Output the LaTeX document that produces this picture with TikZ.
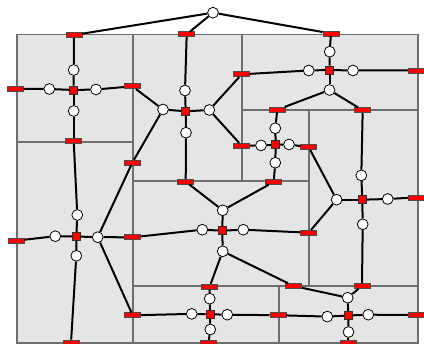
\documentclass[tikz,border=0pt]{standalone}
\definecolor{roomfill}{HTML}{E5E5E5}
\definecolor{wallgray}{HTML}{6E6E6E}
\definecolor{doorred}{HTML}{FF0000}
\tikzset{
  room/.style={fill=roomfill, draw=wallgray, line width=1.2pt},
  door/.style={rectangle, fill=doorred, draw=black!70, line width=0.6pt,
    minimum width=16pt, minimum height=5pt, inner sep=0pt},
  hub/.style={rectangle, fill=doorred, draw=black!80, line width=0.6pt,
    minimum size=8pt, inner sep=0pt},
  junction/.style={circle, fill=white, draw=black, line width=0.8pt,
    minimum size=10.8pt, inner sep=0pt},
  link/.style={line width=2pt, black}
}
\begin{document}
\begin{tikzpicture}[x=1pt, y=-1pt]
\useasboundingbox (0,0) rectangle (424,344);

% rooms of the floor plan
\draw[room] (17,34.5) rectangle (133,142);
\draw[room] (17,142) rectangle (133,343);
\draw[room] (133,34.5) rectangle (242,181);
\draw[room] (242,34.5) rectangle (418,110);
\draw[room] (242,110) rectangle (309,181);
\draw[room] (309,110) rectangle (418,286);
\draw[room] (133,181) rectangle (309,286);
\draw[room] (133,286) rectangle (279,343);
\draw[room] (279,286) rectangle (418,343);

% entrance junction above the plan
\node[junction] (t) at (213,12.7) {};

% doors
\node[door] (d1t) at (74,35) {};
\node[door] (d1l) at (15.3,89) {};
\node[door] (d1r) at (132.3,86.3) {};
\node[door] (d1b) at (73.7,141) {};
\node[door] (d2l) at (16,240.7) {};
\node[door] (d2b) at (71,342.5) {};
\node[door] (d27) at (132.7,237.3) {};
\node[door] (d23) at (132.3,162.7) {};
\node[door] (d28) at (132.7,315.3) {};
\node[door] (d3t) at (186.7,34.3) {};
\node[door] (d37) at (185.7,181.7) {};
\node[door] (d34) at (241.7,74.3) {};
\node[door] (d35) at (241.7,145.7) {};
\node[door] (d4t) at (331,33.5) {};
\node[door] (d4r) at (416.5,70.5) {};
\node[door] (d45) at (277.3,109.7) {};
\node[door] (d46) at (362.7,110.3) {};
\node[door] (d56) at (308.7,147.2) {};
\node[door] (d57) at (273.7,182) {};
\node[door] (d6r) at (416.7,197.4) {};
\node[door] (d69) at (362,286) {};
\node[door] (d67) at (308.7,232.7) {};
\node[door] (d78) at (209.7,286.5) {};
\node[door] (d79) at (293.7,286) {};
\node[door] (d89) at (277.8,315.2) {};
\node[door] (d8b) at (208.5,342.7) {};
\node[door] (d9r) at (416.5,315) {};
\node[door] (d9b) at (347.8,342.7) {};

% room hubs and their junctions
\node[hub] (h1) at (73.7,90) {};
\node[junction] (j1t) at (73.7,70) {};
\node[junction] (j1l) at (49.3,89) {};
\node[junction] (j1r) at (96,89.5) {};
\node[junction] (j1b) at (73.7,111) {};

\node[hub] (h2) at (76.3,236.5) {};
\node[junction] (j2t) at (77.3,215) {};
\node[junction] (j2l) at (55.3,236.2) {};
\node[junction] (j2r) at (97.7,237.2) {};
\node[junction] (j2b) at (76.3,255.8) {};

\node[hub] (h3) at (185.7,111.3) {};
\node[junction] (j3t) at (185,90.5) {};
\node[junction] (j3l) at (163,109.5) {};
\node[junction] (j3r) at (209.3,110) {};
\node[junction] (j3b) at (186,132.7) {};

\node[hub] (h4) at (329.5,70) {};
\node[junction] (j4t) at (329.7,51.7) {};
\node[junction] (j4l) at (308.7,70.5) {};
\node[junction] (j4r) at (353,70.5) {};
\node[junction] (j4b) at (329.5,90) {};

\node[hub] (h5) at (275.7,144.8) {};
\node[junction] (j5t) at (275.3,128.3) {};
\node[junction] (j5l) at (261,145.4) {};
\node[junction] (j5r) at (289,144.5) {};
\node[junction] (j5b) at (275.3,162.7) {};

\node[hub] (h6) at (362.3,199.7) {};
\node[junction] (j6t) at (361.3,175.4) {};
\node[junction] (j6l) at (336.6,199.7) {};
\node[junction] (j6r) at (387.7,199) {};
\node[junction] (j6b) at (362.7,224.3) {};

\node[hub] (h7) at (222.3,230.7) {};
\node[junction] (j7t) at (222.7,210.3) {};
\node[junction] (j7l) at (202.3,229.7) {};
\node[junction] (j7r) at (243.3,229.7) {};
\node[junction] (j7b) at (222.7,251.3) {};

\node[hub] (h8) at (209.9,314.3) {};
\node[junction] (j8t) at (209.7,298.7) {};
\node[junction] (j8l) at (191.7,313.9) {};
\node[junction] (j8r) at (227.3,314.7) {};
\node[junction] (j8b) at (210.3,329.5) {};

\node[hub] (h9) at (348.3,315.5) {};
\node[junction] (j9t) at (347.7,297.7) {};
\node[junction] (j9l) at (327.3,316.6) {};
\node[junction] (j9r) at (368.3,314.7) {};
\node[junction] (j9b) at (348.5,332) {};

% connectors
\draw[link] (t) -- (d1t);
\draw[link] (t) -- (d3t);
\draw[link] (t) -- (d4t);

\draw[link] (d1t) -- (j1t) -- (h1);
\draw[link] (h1) -- (j1l) -- (d1l);
\draw[link] (h1) -- (j1r) -- (d1r);
\draw[link] (h1) -- (j1b) -- (d1b);
\draw[link] (d1r) -- (j3l);

\draw[link] (d3t) -- (j3t) -- (h3);
\draw[link] (h3) -- (j3l);
\draw[link] (h3) -- (j3r);
\draw[link] (h3) -- (j3b) -- (d37);
\draw[link] (j3l) -- (d23);
\draw[link] (j3r) -- (d34);
\draw[link] (j3r) -- (d35);

\draw[link] (d4t) -- (j4t) -- (h4);
\draw[link] (h4) -- (j4l) -- (d34);
\draw[link] (h4) -- (j4r) -- (d4r);
\draw[link] (h4) -- (j4b);
\draw[link] (j4b) -- (d45);
\draw[link] (j4b) -- (d46);

\draw[link] (d45) -- (j5t) -- (h5);
\draw[link] (h5) -- (j5l) -- (d35);
\draw[link] (h5) -- (j5r) -- (d56);
\draw[link] (h5) -- (j5b) -- (d57);

\draw[link] (d46) -- (j6t) -- (h6);
\draw[link] (h6) -- (j6l);
\draw[link] (j6l) -- (d56);
\draw[link] (j6l) -- (d67);
\draw[link] (h6) -- (j6r) -- (d6r);
\draw[link] (h6) -- (j6b) -- (d69);

\draw[link] (d37) -- (j7t);
\draw[link] (d57) -- (j7t);
\draw[link] (j7t) -- (h7);
\draw[link] (h7) -- (j7l) -- (d27);
\draw[link] (h7) -- (j7r) -- (d67);
\draw[link] (h7) -- (j7b);
\draw[link] (j7b) -- (d78);
\draw[link] (j7b) -- (d79);

\draw[link] (d1b) -- (j2t) -- (h2);
\draw[link] (h2) -- (j2l) -- (d2l);
\draw[link] (h2) -- (j2r) -- (d27);
\draw[link] (h2) -- (j2b) -- (d2b);
\draw[link] (j2r) -- (d23);
\draw[link] (j2r) -- (d28);

\draw[link] (d78) -- (j8t) -- (h8);
\draw[link] (h8) -- (j8l) -- (d28);
\draw[link] (h8) -- (j8r) -- (d89);
\draw[link] (h8) -- (j8b) -- (d8b);

\draw[link] (d79) -- (j9t);
\draw[link] (d69) -- (j9t);
\draw[link] (j9t) -- (h9);
\draw[link] (h9) -- (j9l) -- (d89);
\draw[link] (h9) -- (j9r) -- (d9r);
\draw[link] (h9) -- (j9b) -- (d9b);
\end{tikzpicture}
\end{document}
